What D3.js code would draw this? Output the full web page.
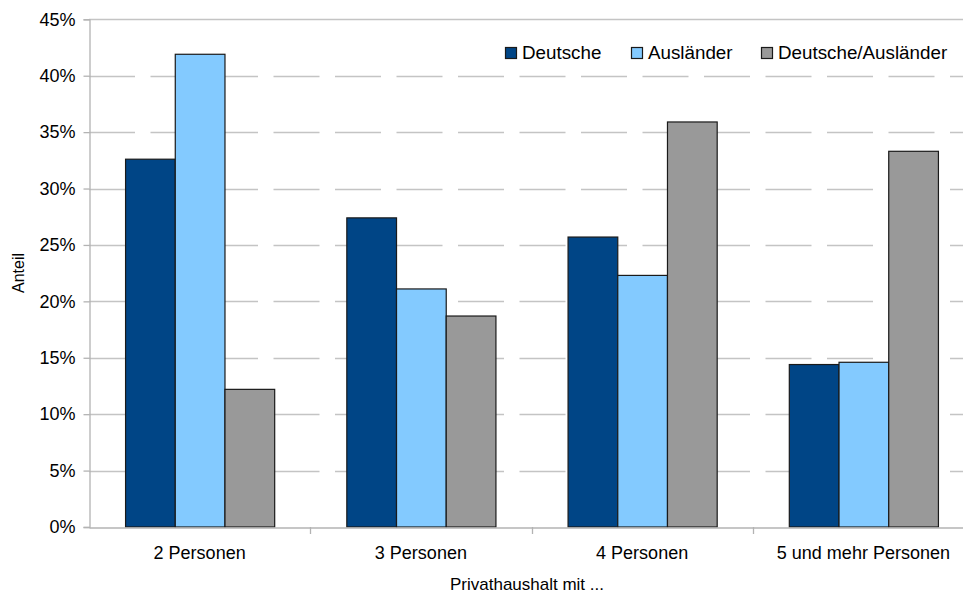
<!DOCTYPE html>
<html><head><meta charset="utf-8">
<script src="https://cdn.jsdelivr.net/npm/d3@7"></script>
<style>html,body{margin:0;padding:0;background:#fff;overflow:hidden}svg{display:block}text{font-family:"Liberation Sans",Arial,sans-serif;fill:#000}</style>
</head><body><svg id="c" width="963" height="595"></svg>
<script>
const categories = ["2 Personen", "3 Personen", "4 Personen", "5 und mehr Personen"];
const seriesNames = ["Deutsche", "Ausländer", "Deutsche/Ausländer"];
const deutsche = [32.6, 27.4, 25.7, 14.4];
const auslaender = [41.9, 21.1, 22.3, 14.6];
const gemischt = [12.2, 18.7, 35.9, 33.3];
const yTicks = [0, 5, 10, 15, 20, 25, 30, 35, 40, 45];
const colors = ["#004586", "#83caff", "#999999"];

const series = [deutsche, auslaender, gemischt];
const svg = d3.select("#c");
const L = 89, R = 974, T = 19.3, B = 527;
const y = d3.scaleLinear().domain([0, 45]).range([B, T]);
const x0 = d3.scaleBand().domain(categories).range([L, R]).padding(0);
const bw = x0.bandwidth();
const x1 = d3.scaleBand().domain(seriesNames).range([bw * 0.163, bw * 0.837]).padding(0);

// gridlines
const grid = svg.append("g");
yTicks.forEach(t => {
  if (t === 0) return;
  grid.append("line").attr("x1", L).attr("x2", R).attr("y1", Math.round(y(t)) + 0.5).attr("y2", Math.round(y(t)) + 0.5)
    .attr("stroke", "#c4c4c4").attr("stroke-width", 1.3)
    .attr("stroke-dasharray", t === 45 ? null : "46,15.5");
});

// bars
const data = [];
categories.forEach((c, i) => seriesNames.forEach((s, j) => data.push({c, s, v: series[j][i], j})));
svg.append("g").selectAll("rect").data(data).join("rect")
  .attr("x", d => x0(d.c) + x1(d.s) + 0.5)
  .attr("y", d => y(d.v))
  .attr("width", x1.bandwidth())
  .attr("height", d => B - y(d.v))
  .attr("fill", d => colors[d.j])
  .attr("stroke", "#1a1a1a").attr("stroke-width", 1.2);

// y axis
const ya = svg.append("g").attr("transform", `translate(${L + 0.5},0)`)
  .call(d3.axisLeft(y).tickValues(yTicks).tickSize(6).tickPadding(8).tickFormat(d => d + "%"));
ya.select(".domain").attr("stroke", "#b3b3b3").attr("stroke-width", 1.3);
ya.selectAll(".tick line").attr("stroke", "#b3b3b3").attr("stroke-width", 1.3);
ya.selectAll(".tick text").attr("font-size", 18).attr("font-family", "Liberation Sans, Arial, sans-serif").attr("fill", "#000");

// x axis
const xa = svg.append("g").attr("transform", `translate(0,${B + 0.5})`)
  .call(d3.axisBottom(x0).tickSize(0).tickPadding(0));
xa.select(".domain").attr("stroke", "#b3b3b3").attr("stroke-width", 1.3);
xa.selectAll(".tick text").attr("font-size", 18).attr("font-family", "Liberation Sans, Arial, sans-serif").attr("fill", "#000").attr("dy", null).attr("y", 31);
// category separator ticks
svg.append("g").selectAll("line").data(categories.slice(1)).join("line")
  .attr("x1", d => Math.round(x0(d)) + 0.5).attr("x2", d => Math.round(x0(d)) + 0.5)
  .attr("y1", B).attr("y2", B + 7).attr("stroke", "#b3b3b3").attr("stroke-width", 1.3);

// axis titles
svg.append("text").attr("transform", `translate(24,273) rotate(-90)`).attr("text-anchor", "middle").attr("font-size", 16).text("Anteil");
svg.append("text").attr("x", 527).attr("y", 590).attr("text-anchor", "middle").attr("font-size", 17).text("Privathaushalt mit ...");

// legend
const legX = [505, 631, 761];
const lg = svg.append("g");
seriesNames.forEach((s, j) => {
  lg.append("rect").attr("x", legX[j] + 0.5).attr("y", 47.5).attr("width", 11).attr("height", 11)
    .attr("fill", colors[j]).attr("stroke", "#1a1a1a").attr("stroke-width", 1.2);
  lg.append("text").attr("x", legX[j] + 17).attr("y", 59).attr("font-size", 18.8).text(s);
});
</script></body></html>
